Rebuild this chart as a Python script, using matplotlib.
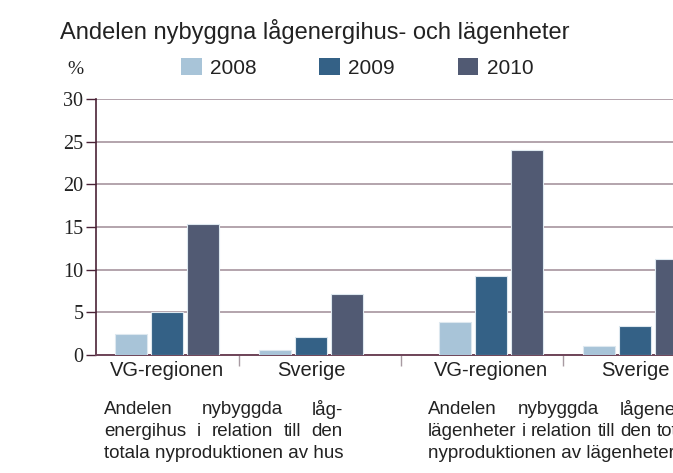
import matplotlib.pyplot as plt
import numpy as np
from matplotlib.patches import Patch

plt.rcParams["font.family"] = "Liberation Sans"

# -------------------------------------
# Data
# -------------------------------------

categories = ["VG-regionen", "Sverige", "VG-regionen", "Sverige"]
years = ["2008", "2009", "2010"]
share_2008 = [2.5, 0.6, 3.9, 1.0]
share_2009 = [5.0, 2.1, 9.3, 3.4]
share_2010 = [15.4, 7.1, 24.0, 11.2]
series = [share_2008, share_2009, share_2010]
colors = ["#a8c4d8", "#346186", "#515a73"]

title = "Andelen nybyggna lågenergihus- och lägenheter"
notes = [
    ["Andelen nybyggda låg-",
     "energihus i relation till den",
     "totala nyproduktionen av hus"],
    ["Andelen nybyggda lågenergi-",
     "lägenheter i relation till den totala",
     "nyproduktionen av lägenheter"],
]

# -------------------------------------
# Plotting
# -------------------------------------

W, H = 673, 473
fig = plt.figure(figsize=(W / 100, H / 100), dpi=100)
ax = fig.add_axes([96 / W, 118 / H, 610 / W, 256 / H])

# second group sits a bit further away from the first
x = np.array([0, 1, 2.25, 3.25])
bar_width = 0.222
offsets = [-0.25, 0, 0.25]
for vals, off, col, year in zip(series, offsets, colors, years):
    ax.bar(x + off, vals, width=bar_width, color=col, edgecolor="#dde8ef",
           linewidth=0.8, label=year, zorder=3)

ax.set_xlim(-0.493, 3.743)
ax.set_ylim(0, 30)
ax.set_yticks(range(0, 31, 5))
ax.yaxis.grid(True, color="#b3a4ac", linewidth=1.4, zorder=0)
ax.set_axisbelow(True)

for s in ["top", "right"]:
    ax.spines[s].set_visible(False)
ax.spines["left"].set_color("#4a2236")
ax.spines["left"].set_linewidth(1.2)
ax.spines["bottom"].set_color("#6e4458")
ax.spines["bottom"].set_linewidth(1.4)

ax.tick_params(axis="y", length=7, width=1, color="#4a2236", pad=2,
               labelsize=14.5, labelcolor="#222222")
for lab in ax.get_yticklabels():
    lab.set_fontfamily("Liberation Serif")

ax.set_xticks(x)
ax.set_xticklabels(categories, fontsize=14.5, color="#222222")
ax.tick_params(axis="x", which="major", length=0, pad=4)
ax.set_xticks([0.5, 1.625, 2.75], minor=True)
ax.tick_params(axis="x", which="minor", length=8, width=1, color="#a89aa2")

fig.text(60 / W, 1 - 32 / H, title, fontsize=17, va="center", ha="left",
         color="#222222")
fig.text(67 / W, 1 - 70 / H, "%", fontsize=14, va="center", ha="left",
         family="Liberation Serif", color="#222222")

handles = [Patch(facecolor=c, edgecolor="none") for c in colors]
fig.legend(handles, years, ncol=3, frameon=False, loc="center left",
           bbox_to_anchor=(181 / W, 1 - 68 / H), fontsize=15,
           handlelength=1.0, handleheight=0.87, handletextpad=0.4,
           columnspacing=3.0, borderaxespad=0, borderpad=0,
           labelcolor="#222222")

# justified note text under each group
renderer = fig.canvas.get_renderer()
note_size = 13.5


def justified(lines, x0, y0, step, x1=None):
    if x1 is None:
        probe = [fig.text(0, 0, ln, fontsize=note_size) for ln in lines]
        x1 = x0 + max(t.get_window_extent(renderer).width for t in probe)
        for t in probe:
            t.remove()
    for i, line in enumerate(lines):
        y = 1 - (y0 + i * step) / H
        words = line.split(" ")
        if i == len(lines) - 1 or len(words) == 1:
            fig.text(x0 / W, y, line, fontsize=note_size, va="center",
                     color="#222222")
            continue
        texts = [fig.text(0, y, w, fontsize=note_size, va="center",
                          color="#222222") for w in words]
        widths = [t.get_window_extent(renderer).width for t in texts]
        gap = (x1 - x0 - sum(widths)) / (len(words) - 1)
        pos = x0
        for t, wd in zip(texts, widths):
            t.set_x(pos / W)
            pos += wd + gap


justified(notes[0], 104, 409, 22, x1=343)
justified(notes[1], 428, 409, 22)

fig.savefig("out.png", dpi=100)
